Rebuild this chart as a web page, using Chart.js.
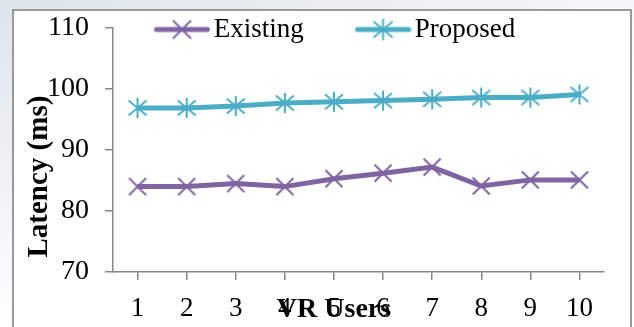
<!DOCTYPE html>
<html>
<head>
<meta charset="utf-8">
<script src="https://cdn.jsdelivr.net/npm/chart.js@4"></script>
<style>
  html, body { margin: 0; padding: 0; }
  body {
    width: 634px; height: 327px; overflow: hidden; position: relative;
    background: linear-gradient(160deg, #dde4ec 0%, #eef1f5 30%, #ffffff 60%);
  }
  #frame {
    position: absolute; left: 12px; top: 9px; width: 616px; height: 340px;
    background: #fff; border: 2px solid #9a9a9a;
  }
  #wrap { position: absolute; left: 0; top: 0; width: 634px; height: 327px; }
</style>
</head>
<body>
<div id="frame"></div>
<div id="wrap"><canvas id="chart"></canvas></div>
<script>
// Data
const users = ['1', '2', '3', '4', '5', '6', '7', '8', '9', '10'];
const existing = [84, 84, 84.5, 84, 85.3, 86.2, 87.2, 84.1, 85.1, 85.1];
const proposed = [96.9, 96.9, 97.2, 97.7, 97.9, 98.1, 98.3, 98.6, 98.6, 99.1];
const yTicks = [70, 80, 90, 100, 110];

const PURPLE = '#8064a2';
const CYAN = '#4bacc6';
const AXIS = '#878787';

// marker shapes (x for Existing, asterisk for Proposed)
function drawMarker(ctx, kind, color, cx, cy) {
  ctx.strokeStyle = color;
  ctx.lineWidth = 2;
  ctx.beginPath();
  if (kind === 'star') {
    ctx.moveTo(cx, cy - 10); ctx.lineTo(cx, cy + 10);
    ctx.moveTo(cx - 9, cy - 7.5); ctx.lineTo(cx + 9, cy + 7.5);
    ctx.moveTo(cx - 9, cy + 7.5); ctx.lineTo(cx + 9, cy - 7.5);
  } else {
    ctx.moveTo(cx - 8.5, cy - 8.5); ctx.lineTo(cx + 8.5, cy + 8.5);
    ctx.moveTo(cx - 8.5, cy + 8.5); ctx.lineTo(cx + 8.5, cy - 8.5);
  }
  ctx.stroke();
}

function markerImage(kind, color) {
  const c = document.createElement('canvas');
  c.width = 22; c.height = 22;
  drawMarker(c.getContext('2d'), kind, color, 11, 11);
  return c;
}

// legend symbol: line with marker, placed in the right part of a wide image
function legendImage(kind, color) {
  const c = document.createElement('canvas');
  c.width = 114; c.height = 24;
  const ctx = c.getContext('2d');
  ctx.strokeStyle = color;
  ctx.lineWidth = 5;
  ctx.lineCap = 'round';
  ctx.beginPath();
  ctx.moveTo(60, 12); ctx.lineTo(111, 12);
  ctx.stroke();
  drawMarker(ctx, kind, color, 85.5, 12);
  return c;
}

const legendImgs = [legendImage('x', PURPLE), legendImage('star', CYAN)];

// legend takes no room in the layout; put it over the top of the plot
const legendShift = {
  id: 'legendShift',
  afterLayout(chart) {
    const lg = chart.legend;
    if (!lg) return;
    lg.top = 12;
    lg.bottom = 64;
    lg.left += 9; lg.right += 9;
  }
};

new Chart(document.getElementById('chart'), {
  type: 'line',
  data: {
    labels: users,
    datasets: [{
      label: 'Existing',
      data: existing,
      borderColor: PURPLE,
      backgroundColor: PURPLE,
      borderWidth: 5,
      pointStyle: markerImage('x', PURPLE),
      tension: 0,
      fill: false
    }, {
      label: 'Proposed',
      data: proposed,
      borderColor: CYAN,
      backgroundColor: CYAN,
      borderWidth: 5,
      pointStyle: markerImage('star', CYAN),
      tension: 0,
      fill: false
    }]
  },
  options: {
    responsive: true,
    maintainAspectRatio: false,
    animation: false,
    layout: { padding: { left: 0, top: 27, right: 30, bottom: 0 } },
    plugins: {
      tooltip: { enabled: false },
      legend: {
        position: 'top',
        align: 'center',
        maxHeight: 1,
        labels: {
          usePointStyle: true,
          pointStyleWidth: 93.5,
          padding: 4,
          color: '#000',
          font: { family: 'Liberation Serif', size: 27 },
          generateLabels(chart) {
            const items = Chart.defaults.plugins.legend.labels.generateLabels(chart);
            items.forEach((it, i) => { it.pointStyle = legendImgs[i]; });
            return items;
          }
        }
      }
    },
    scales: {
      x: {
        offset: true,
        grid: { drawOnChartArea: false, drawTicks: true, tickLength: 8, color: AXIS, lineWidth: 1.5 },
        border: { color: AXIS, width: 1.5 },
        ticks: { color: '#000', padding: 13, font: { family: 'Liberation Serif', size: 27 } },
        title: {
          display: true,
          text: 'VR Users\u00a0\u00a0\u00a0\u00a0\u00a0\u00a0\u00a0',
          color: '#000',
          font: { family: 'Liberation Serif', size: 28, weight: 'bold' },
          padding: { top: 0, bottom: 0 }
        },
        afterFit(scale) { scale.height = 55; }
      },
      y: {
        min: 70,
        max: 110,
        afterBuildTicks(scale) { scale.ticks = yTicks.map(v => ({ value: v })); },
        grid: { drawOnChartArea: false, drawTicks: true, tickLength: 8, color: AXIS, lineWidth: 1.5 },
        border: { color: AXIS, width: 1.5 },
        ticks: { color: '#000', padding: 16, font: { family: 'Liberation Serif', size: 28 } },
        title: {
          display: true,
          align: 'start',
          text: '\u00a0\u00a0Latency (ms)',
          color: '#000',
          font: { family: 'Liberation Serif', size: 29, weight: 'bold' },
          padding: { top: 22, bottom: 0 }
        },
        afterFit(scale) {
          scale.width = 113;
          scale.paddingTop = 0;
          scale.paddingBottom = 0;
        }
      }
    }
  },
  plugins: [legendShift]
});
</script>
</body>
</html>
